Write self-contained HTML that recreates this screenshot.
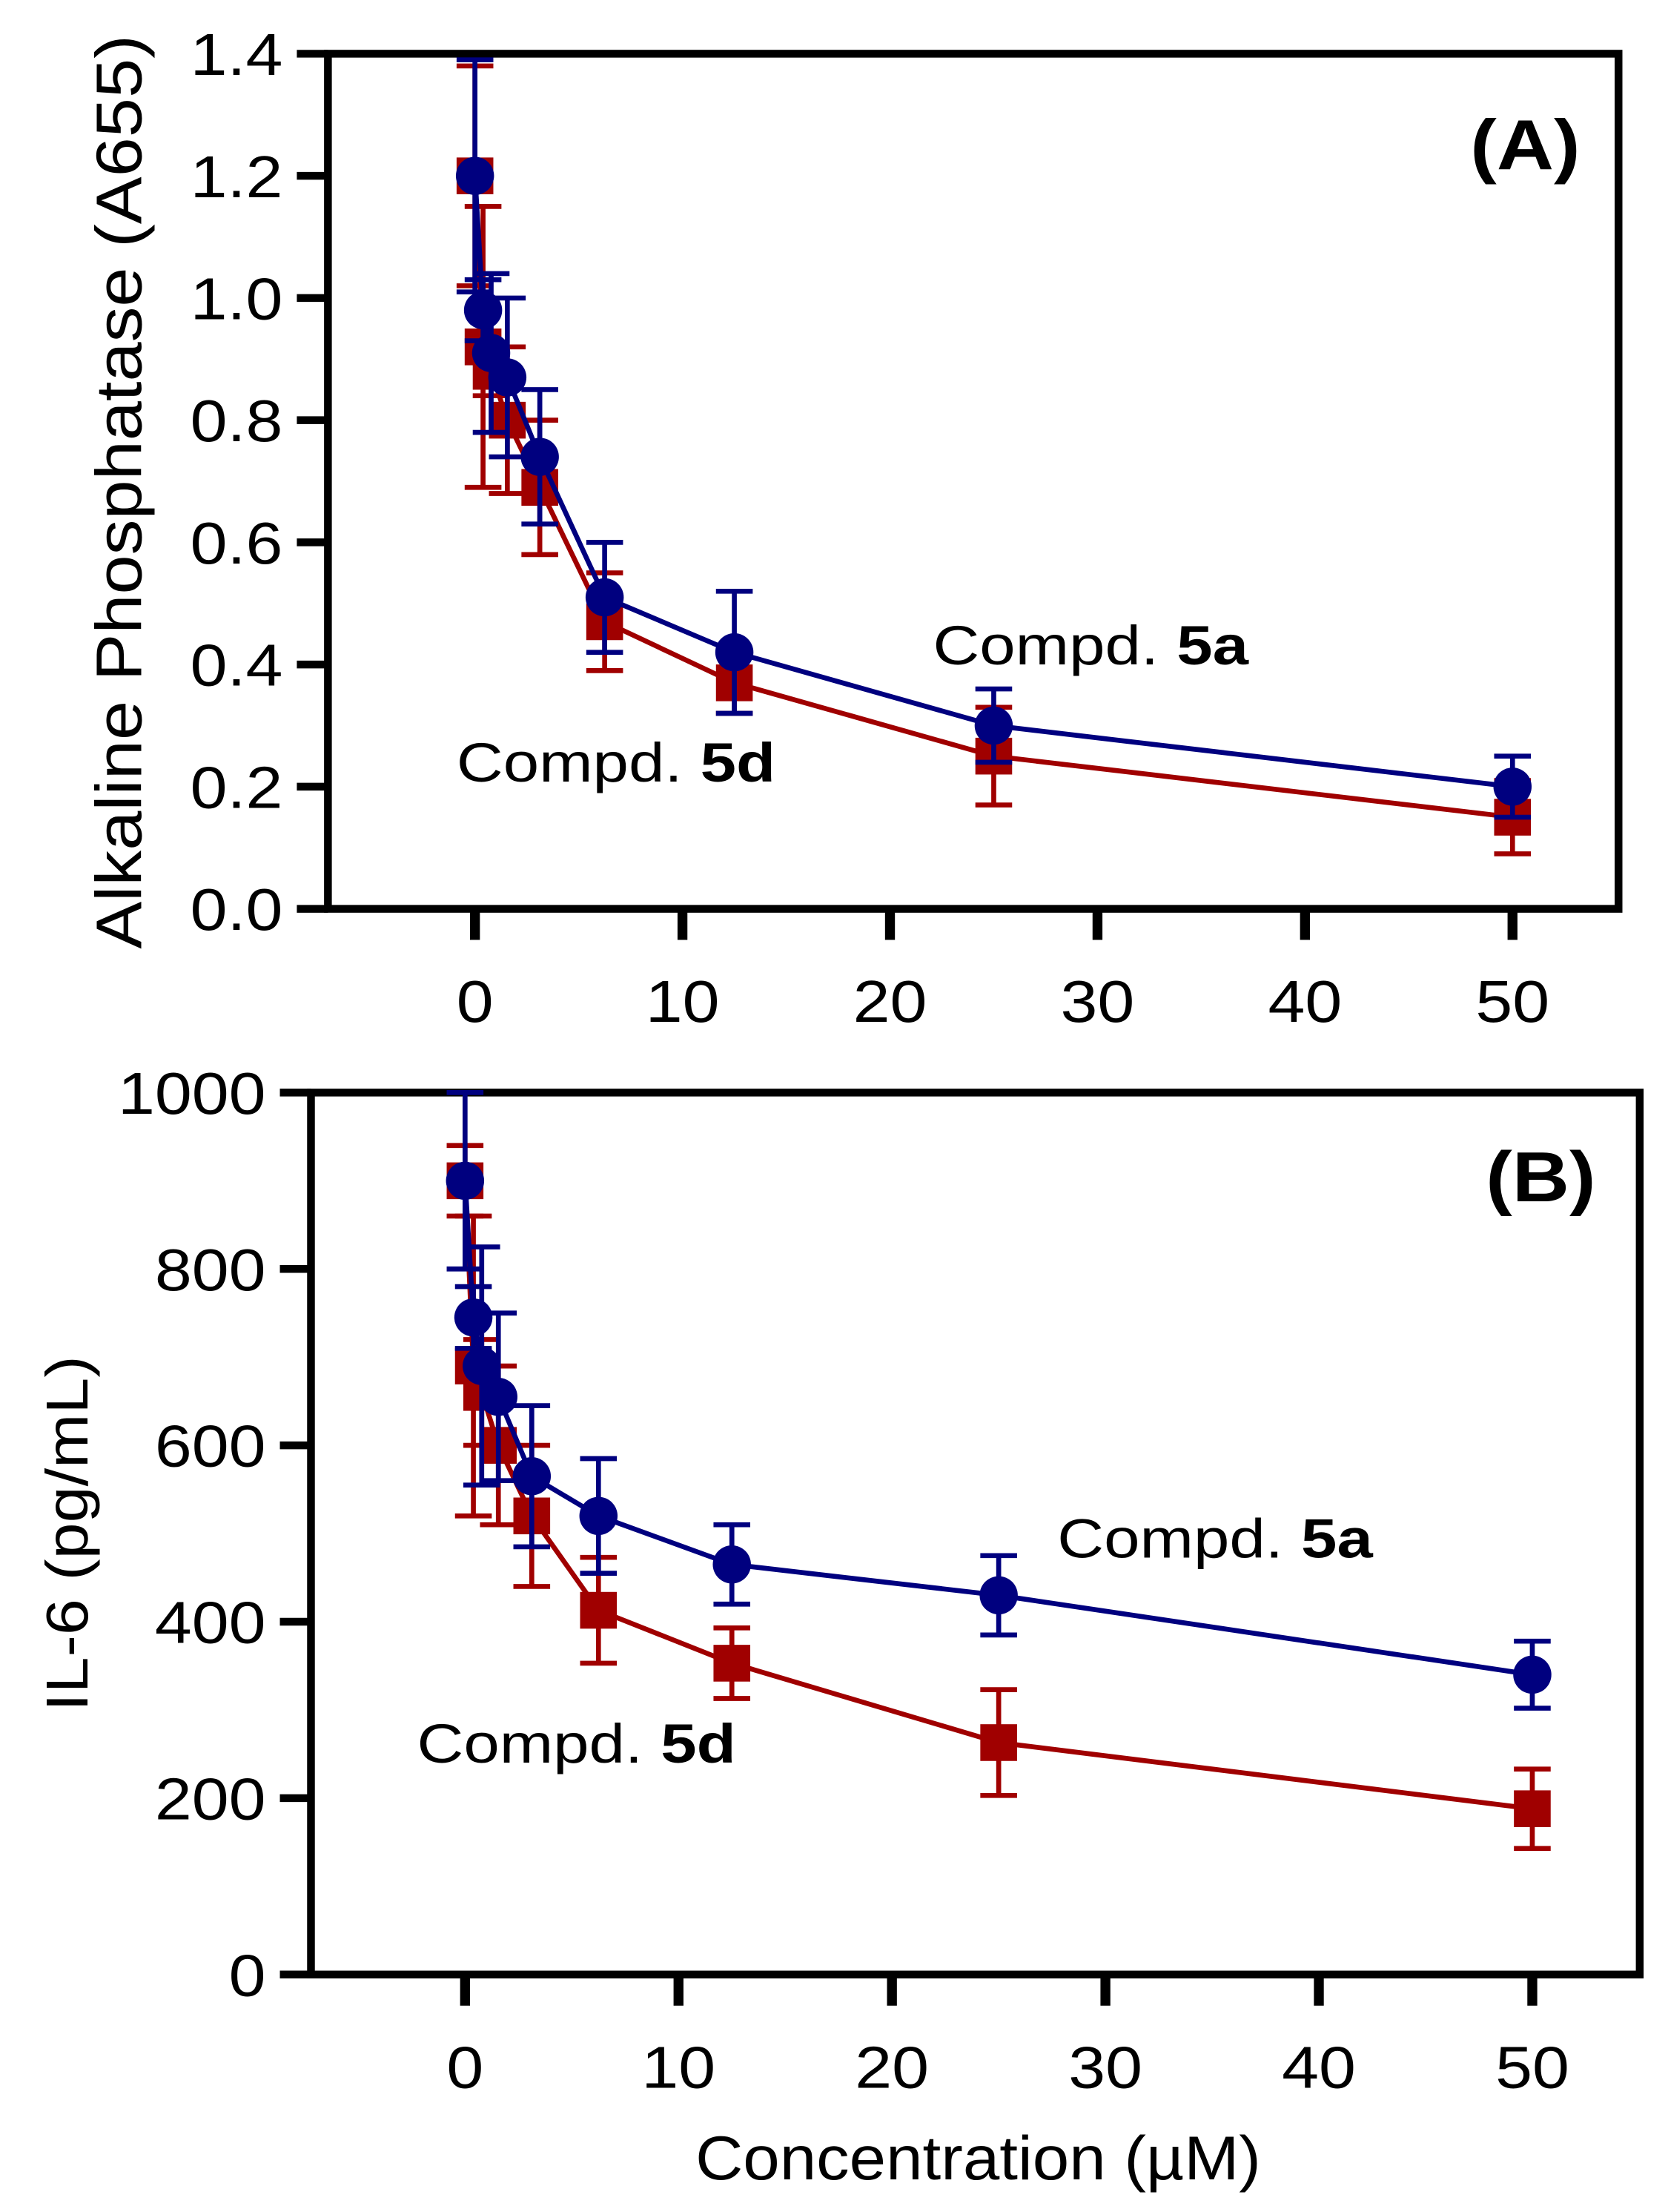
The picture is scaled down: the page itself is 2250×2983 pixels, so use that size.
<!DOCTYPE html>
<html><head><meta charset="utf-8"><style>
html,body{margin:0;padding:0;background:#fff;}
svg{display:block;font-family:"Liberation Sans",Arial,sans-serif;}
</style></head><body>
<svg id="fig" width="2250" height="2983" viewBox="0 0 1180 1565" preserveAspectRatio="none" xmlns="http://www.w3.org/2000/svg"></svg>
<script>
const xConc = [0, 0.39, 0.78, 1.56, 3.125, 6.25, 12.5, 25, 50];
const aBlue = [1.20, 0.98, 0.91, 0.87, 0.74, 0.51, 0.42, 0.30, 0.20];
const aBlueErr = [0.19, 0.05, 0.13, 0.13, 0.11, 0.09, 0.10, 0.06, 0.05];
const aRed = [1.20, 0.92, 0.88, 0.80, 0.69, 0.47, 0.37, 0.25, 0.15];
const aRedErr = [0.18, 0.23, 0.04, 0.12, 0.11, 0.08, 0.05, 0.08, 0.06];
const bBlue = [900, 745, 690, 655, 565, 520, 465, 430, 340];
const bBlueErr = [100, 35, 135, 95, 80, 65, 45, 45, 38];
const bRed = [900, 690, 660, 600, 520, 413, 353, 263, 188];
const bRedErr = [40, 170, 60, 90, 80, 60, 40, 60, 45];
const xTicks = [0, 10, 20, 30, 40, 50];
const aYTicks = [0, 0.2, 0.4, 0.6, 0.8, 1.0, 1.2, 1.4];
const bYTicks = [0, 200, 400, 600, 800, 1000];

const NS = "http://www.w3.org/2000/svg";
const svg = document.getElementById('fig');
function el(tag, attrs, parent) {
  const e = document.createElementNS(NS, tag);
  for (const k in attrs) e.setAttribute(k, attrs[k]);
  (parent || svg).appendChild(e);
  return e;
}
function txt(parent, x, y, anchor, size, sx, extra) {
  const a = Object.assign({x: 0, y: 0, 'text-anchor': anchor, 'font-size': size, transform: `translate(${x},${y}) scale(${sx},1)`}, extra || {});
  return el('text', a, parent);
}
const BLUE = "#00007f", RED = "#a00000";

function panel(cfg) {
  const g = el('g', {});
  
  
  const sx = v => cfg.x0 + v * cfg.xs;
  const sy = v => cfg.bottom - (v - cfg.yMin) / (cfg.yMax - cfg.yMin) * (cfg.bottom - cfg.top);
  const fr = el('rect', {x: cfg.left, y: cfg.top, width: cfg.right - cfg.left, height: cfg.bottom - cfg.top, fill: 'none', stroke: '#000', 'stroke-width': 5.5}, g);
  
  
  cfg.yTicks.forEach(t => {
    const y = sy(t);
    const ln = el('line', {x1: cfg.left - 22, x2: cfg.left, y1: y, y2: y, stroke: '#000', 'stroke-width': 5.5}, g);
    
    
    const tx = txt(g, cfg.left - 32, y + 15, 'end', 42, 1.12);
    
    
    tx.textContent = cfg.yFmt(t);
  });
  xTicks.forEach(t => {
    const x = sx(t);
    const ln = el('line', {x1: x, x2: x, y1: cfg.bottom, y2: cfg.bottom + 22, stroke: '#000', 'stroke-width': 7}, g);
    
    
    const tx = txt(g, x, cfg.bottom + 80, 'middle', 42, 1.12);
    
    
    tx.textContent = t;
  });
  function series(vals, errs, color, shape, sname) {
    const sg = el('g', {}, g);
    
    
    vals.forEach((v, i) => {
      const x = sx(xConc[i]);
      const e = el('path', {d: `M${x},${sy(v + errs[i])}V${sy(v - errs[i])}M${x - 13},${sy(v + errs[i])}h26M${x - 13},${sy(v - errs[i])}h26`, stroke: color, 'stroke-width': 3.5, fill: 'none'}, sg);
      
      
    });
    const pts = vals.map((v, i) => sx(xConc[i]) + ',' + sy(v)).join(' ');
    const pl = el('polyline', {points: pts, fill: 'none', stroke: color, 'stroke-width': 3.5}, sg);
    
    
    vals.forEach((v, i) => {
      const x = sx(xConc[i]), y = sy(v);
      let m;
      if (shape === 'sq') m = el('rect', {x: x - 13, y: y - 13, width: 26, height: 26, fill: color}, sg);
      else m = el('circle', {cx: x, cy: y, r: 13.5, fill: color}, sg);
      
      
    });
  }
  series(cfg.red, cfg.redErr, RED, 'sq', 'series-5d');
  series(cfg.blue, cfg.blueErr, BLUE, 'ci', 'series-5a');
  const pl = txt(g, cfg.panelX, cfg.panelY, 'middle', 50, 1.12, {'font-weight': 'bold'});
  
  
  pl.textContent = cfg.panelText;
  [[cfg.l5a, '5a', 'label-5a'], [cfg.l5d, '5d', 'label-5d']].forEach(([p, b, n]) => {
    const t = txt(g, p[0], p[1], 'start', 39, 1.17);
    
    
    t.appendChild(document.createTextNode('Compd. '));
    const ts = el('tspan', {'font-weight': 'bold'}, t);
    ts.textContent = b;
  });
  const yt = el('text', {x: 0, y: 0, transform: `translate(${cfg.ytX},${cfg.ytY}) rotate(-90) scale(${cfg.ytScale},1)`, 'text-anchor': 'middle', 'font-size': cfg.ytSize}, g);
  
  
  yt.textContent = cfg.yTitle;
}

panel({name: 'panel-a', left: 232, right: 1145, top: 38, bottom: 643, x0: 336, xs: 14.68,
  yMin: 0, yMax: 1.4, yTicks: aYTicks, yFmt: t => t.toFixed(1),
  blue: aBlue, blueErr: aBlueErr, red: aRed, redErr: aRedErr,
  panelText: '(A)', panelX: 1079, panelY: 120, l5a: [660, 470], l5d: [323, 553],
  yTitle: 'Alkaline Phosphatase (A655)', ytX: 100, ytY: 348, ytSize: 46, ytScale: 1.09});
panel({name: 'panel-b', left: 220, right: 1160, top: 773, bottom: 1397, x0: 329, xs: 15.1,
  yMin: 0, yMax: 1000, yTicks: bYTicks, yFmt: t => String(t),
  blue: bBlue, blueErr: bBlueErr, red: bRed, redErr: bRedErr,
  panelText: '(B)', panelX: 1090, panelY: 850, l5a: [748, 1102], l5d: [295, 1247],
  yTitle: 'IL-6 (pg/mL)', ytX: 62, ytY: 1085, ytSize: 42, ytScale: 1.1});

const xt = el('text', {x: 0, y: 0, transform: 'translate(692,1542) scale(1.06,1)', 'text-anchor': 'middle', 'font-size': 44});


xt.textContent = 'Concentration (µM)';
</script>
</body></html>
